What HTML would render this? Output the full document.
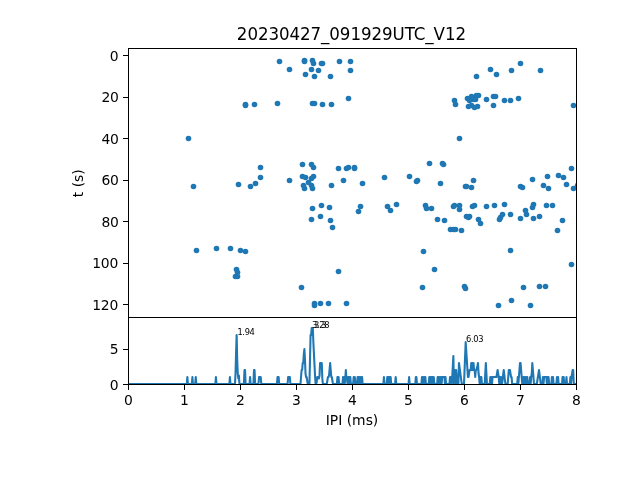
<!DOCTYPE html><html><head><meta charset="utf-8"><title>20230427_091929UTC_V12</title><style>html,body{margin:0;padding:0;background:#fff}body{width:640px;height:480px;overflow:hidden}</style></head><body><svg width="640" height="480" viewBox="0 0 640 480" style="display:block"><defs><clipPath id="c1"><rect x="128" y="48" width="448.5" height="269"/></clipPath><clipPath id="c2"><rect x="128" y="317" width="448.5" height="68"/></clipPath></defs><rect width="640" height="480" fill="#fff"/><g clip-path="url(#c1)" fill="#1f77b4"><circle cx="188.5" cy="138.5" r="2.8"/><circle cx="193.5" cy="186.5" r="2.8"/><circle cx="196.5" cy="250.5" r="2.8"/><circle cx="216.5" cy="248.5" r="2.8"/><circle cx="230.5" cy="248.5" r="2.8"/><circle cx="235.5" cy="276.5" r="2.8"/><circle cx="236.5" cy="269.5" r="2.8"/><circle cx="237.5" cy="272.5" r="2.8"/><circle cx="237.5" cy="276.5" r="2.8"/><circle cx="238.5" cy="184.5" r="2.8"/><circle cx="240.5" cy="250.5" r="2.8"/><circle cx="245.5" cy="104.5" r="2.8"/><circle cx="245.5" cy="105.5" r="2.8"/><circle cx="245.5" cy="251.5" r="2.8"/><circle cx="250.5" cy="186.5" r="2.8"/><circle cx="254.5" cy="104.5" r="2.8"/><circle cx="255.5" cy="183.5" r="2.8"/><circle cx="260.5" cy="167.5" r="2.8"/><circle cx="260.5" cy="177.5" r="2.8"/><circle cx="277.5" cy="103.5" r="2.8"/><circle cx="279.5" cy="61.5" r="2.8"/><circle cx="289.5" cy="69.5" r="2.8"/><circle cx="289.5" cy="180.5" r="2.8"/><circle cx="301.5" cy="287.5" r="2.8"/><circle cx="302.5" cy="164.5" r="2.8"/><circle cx="302.5" cy="176.5" r="2.8"/><circle cx="303.5" cy="185.5" r="2.8"/><circle cx="304.5" cy="60.5" r="2.8"/><circle cx="304.5" cy="61.5" r="2.8"/><circle cx="304.5" cy="188.5" r="2.8"/><circle cx="305.5" cy="74.5" r="2.8"/><circle cx="305.5" cy="177.5" r="2.8"/><circle cx="308.5" cy="182.5" r="2.8"/><circle cx="311.5" cy="69.5" r="2.8"/><circle cx="311.5" cy="164.5" r="2.8"/><circle cx="311.5" cy="178.5" r="2.8"/><circle cx="311.5" cy="185.5" r="2.8"/><circle cx="311.5" cy="219.5" r="2.8"/><circle cx="312.5" cy="60.5" r="2.8"/><circle cx="312.5" cy="103.5" r="2.8"/><circle cx="312.5" cy="188.5" r="2.8"/><circle cx="312.5" cy="208.5" r="2.8"/><circle cx="313.5" cy="63.5" r="2.8"/><circle cx="313.5" cy="167.5" r="2.8"/><circle cx="313.5" cy="176.5" r="2.8"/><circle cx="314.5" cy="76.5" r="2.8"/><circle cx="314.5" cy="103.5" r="2.8"/><circle cx="314.5" cy="303.5" r="2.8"/><circle cx="314.5" cy="305.5" r="2.8"/><circle cx="318.5" cy="70.5" r="2.8"/><circle cx="320.5" cy="216.5" r="2.8"/><circle cx="320.5" cy="303.5" r="2.8"/><circle cx="321.5" cy="63.5" r="2.8"/><circle cx="321.5" cy="205.5" r="2.8"/><circle cx="322.5" cy="63.5" r="2.8"/><circle cx="322.5" cy="104.5" r="2.8"/><circle cx="328.5" cy="303.5" r="2.8"/><circle cx="329.5" cy="207.5" r="2.8"/><circle cx="330.5" cy="76.5" r="2.8"/><circle cx="330.5" cy="220.5" r="2.8"/><circle cx="331.5" cy="104.5" r="2.8"/><circle cx="331.5" cy="185.5" r="2.8"/><circle cx="332.5" cy="227.5" r="2.8"/><circle cx="338.5" cy="168.5" r="2.8"/><circle cx="338.5" cy="271.5" r="2.8"/><circle cx="339.5" cy="61.5" r="2.8"/><circle cx="343.5" cy="180.5" r="2.8"/><circle cx="346.5" cy="168.5" r="2.8"/><circle cx="346.5" cy="303.5" r="2.8"/><circle cx="348.5" cy="98.5" r="2.8"/><circle cx="348.5" cy="167.5" r="2.8"/><circle cx="350.5" cy="61.5" r="2.8"/><circle cx="350.5" cy="70.5" r="2.8"/><circle cx="354.5" cy="167.5" r="2.8"/><circle cx="354.5" cy="168.5" r="2.8"/><circle cx="358.5" cy="211.5" r="2.8"/><circle cx="360.5" cy="206.5" r="2.8"/><circle cx="362.5" cy="183.5" r="2.8"/><circle cx="384.5" cy="177.5" r="2.8"/><circle cx="387.5" cy="206.5" r="2.8"/><circle cx="390.5" cy="210.5" r="2.8"/><circle cx="396.5" cy="204.5" r="2.8"/><circle cx="409.5" cy="176.5" r="2.8"/><circle cx="416.5" cy="181.5" r="2.8"/><circle cx="417.5" cy="180.5" r="2.8"/><circle cx="422.5" cy="287.5" r="2.8"/><circle cx="423.5" cy="251.5" r="2.8"/><circle cx="425.5" cy="205.5" r="2.8"/><circle cx="426.5" cy="208.5" r="2.8"/><circle cx="429.5" cy="163.5" r="2.8"/><circle cx="431.5" cy="208.5" r="2.8"/><circle cx="434.5" cy="269.5" r="2.8"/><circle cx="437.5" cy="219.5" r="2.8"/><circle cx="440.5" cy="183.5" r="2.8"/><circle cx="442.5" cy="163.5" r="2.8"/><circle cx="443.5" cy="164.5" r="2.8"/><circle cx="444.5" cy="220.5" r="2.8"/><circle cx="450.5" cy="229.5" r="2.8"/><circle cx="453.5" cy="206.5" r="2.8"/><circle cx="453.5" cy="229.5" r="2.8"/><circle cx="454.5" cy="100.5" r="2.8"/><circle cx="454.5" cy="205.5" r="2.8"/><circle cx="455.5" cy="104.5" r="2.8"/><circle cx="455.5" cy="229.5" r="2.8"/><circle cx="459.5" cy="138.5" r="2.8"/><circle cx="459.5" cy="205.5" r="2.8"/><circle cx="459.5" cy="209.5" r="2.8"/><circle cx="461.5" cy="230.5" r="2.8"/><circle cx="464.5" cy="286.5" r="2.8"/><circle cx="465.5" cy="186.5" r="2.8"/><circle cx="465.5" cy="288.5" r="2.8"/><circle cx="466.5" cy="186.5" r="2.8"/><circle cx="466.5" cy="216.5" r="2.8"/><circle cx="467.5" cy="98.5" r="2.8"/><circle cx="468.5" cy="106.5" r="2.8"/><circle cx="468.5" cy="217.5" r="2.8"/><circle cx="469.5" cy="100.5" r="2.8"/><circle cx="469.5" cy="216.5" r="2.8"/><circle cx="471.5" cy="96.5" r="2.8"/><circle cx="471.5" cy="105.5" r="2.8"/><circle cx="471.5" cy="187.5" r="2.8"/><circle cx="472.5" cy="97.5" r="2.8"/><circle cx="472.5" cy="206.5" r="2.8"/><circle cx="473.5" cy="99.5" r="2.8"/><circle cx="473.5" cy="180.5" r="2.8"/><circle cx="474.5" cy="107.5" r="2.8"/><circle cx="474.5" cy="205.5" r="2.8"/><circle cx="475.5" cy="99.5" r="2.8"/><circle cx="476.5" cy="76.5" r="2.8"/><circle cx="476.5" cy="95.5" r="2.8"/><circle cx="477.5" cy="106.5" r="2.8"/><circle cx="478.5" cy="95.5" r="2.8"/><circle cx="478.5" cy="219.5" r="2.8"/><circle cx="480.5" cy="223.5" r="2.8"/><circle cx="486.5" cy="99.5" r="2.8"/><circle cx="486.5" cy="206.5" r="2.8"/><circle cx="490.5" cy="69.5" r="2.8"/><circle cx="493.5" cy="96.5" r="2.8"/><circle cx="493.5" cy="105.5" r="2.8"/><circle cx="494.5" cy="205.5" r="2.8"/><circle cx="495.5" cy="96.5" r="2.8"/><circle cx="496.5" cy="74.5" r="2.8"/><circle cx="498.5" cy="305.5" r="2.8"/><circle cx="499.5" cy="219.5" r="2.8"/><circle cx="500.5" cy="217.5" r="2.8"/><circle cx="502.5" cy="214.5" r="2.8"/><circle cx="504.5" cy="100.5" r="2.8"/><circle cx="504.5" cy="204.5" r="2.8"/><circle cx="510.5" cy="100.5" r="2.8"/><circle cx="510.5" cy="214.5" r="2.8"/><circle cx="510.5" cy="250.5" r="2.8"/><circle cx="511.5" cy="70.5" r="2.8"/><circle cx="511.5" cy="300.5" r="2.8"/><circle cx="518.5" cy="98.5" r="2.8"/><circle cx="520.5" cy="63.5" r="2.8"/><circle cx="520.5" cy="186.5" r="2.8"/><circle cx="520.5" cy="218.5" r="2.8"/><circle cx="522.5" cy="187.5" r="2.8"/><circle cx="523.5" cy="287.5" r="2.8"/><circle cx="525.5" cy="210.5" r="2.8"/><circle cx="526.5" cy="214.5" r="2.8"/><circle cx="530.5" cy="305.5" r="2.8"/><circle cx="532.5" cy="179.5" r="2.8"/><circle cx="532.5" cy="207.5" r="2.8"/><circle cx="533.5" cy="204.5" r="2.8"/><circle cx="533.5" cy="218.5" r="2.8"/><circle cx="539.5" cy="216.5" r="2.8"/><circle cx="539.5" cy="286.5" r="2.8"/><circle cx="540.5" cy="70.5" r="2.8"/><circle cx="543.5" cy="185.5" r="2.8"/><circle cx="545.5" cy="286.5" r="2.8"/><circle cx="546.5" cy="205.5" r="2.8"/><circle cx="547.5" cy="176.5" r="2.8"/><circle cx="548.5" cy="188.5" r="2.8"/><circle cx="552.5" cy="205.5" r="2.8"/><circle cx="557.5" cy="230.5" r="2.8"/><circle cx="558.5" cy="175.5" r="2.8"/><circle cx="562.5" cy="220.5" r="2.8"/><circle cx="563.5" cy="177.5" r="2.8"/><circle cx="566.5" cy="184.5" r="2.8"/><circle cx="571.5" cy="168.5" r="2.8"/><circle cx="571.5" cy="264.5" r="2.8"/><circle cx="573.5" cy="105.5" r="2.8"/><circle cx="573.5" cy="188.5" r="2.8"/><circle cx="577.5" cy="185.5" r="2.8"/></g><g clip-path="url(#c2)"><polyline points="128.00,384.00 186.80,384.00 187.36,377.00 187.92,384.00 191.84,384.00 192.40,377.00 192.96,384.00 195.20,384.00 195.76,377.00 196.32,384.00 215.36,384.00 215.92,377.00 216.48,384.00 229.36,384.00 229.92,377.00 230.48,384.00 234.96,384.00 235.52,373.50 236.08,352.50 236.64,335.00 237.20,359.50 237.76,373.50 238.32,378.40 238.88,375.60 239.44,384.00 243.92,384.00 244.48,370.00 245.04,370.00 245.60,384.00 249.52,384.00 250.08,377.00 250.64,384.00 253.44,384.00 254.00,370.00 254.56,370.00 255.12,384.00 258.48,384.00 259.04,377.00 259.60,377.00 260.16,377.00 260.72,377.00 261.28,384.00 276.96,384.00 277.52,377.00 278.08,377.00 278.64,377.00 279.20,384.00 287.60,384.00 288.16,377.00 288.72,377.00 289.28,377.00 289.84,377.00 290.40,384.00 300.48,384.00 301.04,377.00 301.60,370.00 302.16,370.00 302.72,363.00 303.28,363.00 303.84,353.90 304.40,349.00 304.96,359.50 305.52,373.50 306.08,377.00 306.64,377.00 307.20,380.50 307.76,384.00 309.44,384.00 310.00,359.50 310.56,335.00 311.12,335.00 311.68,328.00 312.24,335.00 312.80,328.00 313.36,342.00 313.92,353.20 314.48,364.40 315.04,375.60 315.60,384.00 316.16,384.00 316.72,381.90 317.28,377.00 317.84,377.00 318.40,378.40 318.96,378.40 319.52,375.60 320.08,363.00 320.64,363.00 321.20,363.00 321.76,363.00 322.32,378.40 322.88,384.00 326.80,384.00 327.36,380.50 327.92,377.00 328.48,377.00 329.04,375.60 329.60,369.30 330.16,363.00 330.72,370.00 331.28,377.00 331.84,377.00 332.40,380.50 332.96,384.00 336.88,384.00 337.44,377.00 338.00,384.00 338.56,377.00 339.12,384.00 342.48,384.00 343.04,377.00 343.60,384.00 344.16,377.00 344.72,384.00 345.28,378.40 345.84,370.00 346.40,378.40 346.96,377.00 347.52,384.00 348.08,377.00 348.64,384.00 349.20,377.00 349.76,384.00 350.32,377.00 350.88,384.00 353.12,384.00 353.68,377.00 354.24,384.00 354.80,377.00 355.36,384.00 357.04,384.00 357.60,377.00 358.16,384.00 358.72,377.00 359.28,384.00 359.84,377.00 360.40,384.00 360.96,377.00 361.52,384.00 362.08,377.00 362.64,384.00 383.36,384.00 383.92,377.00 384.48,384.00 386.72,384.00 387.28,377.00 387.84,384.00 388.40,377.00 388.96,384.00 389.52,377.00 390.08,384.00 390.64,377.00 391.20,384.00 395.12,384.00 395.68,377.00 396.24,384.00 408.56,384.00 409.12,377.00 409.68,384.00 415.28,384.00 415.84,377.00 416.40,377.00 416.96,384.00 421.44,384.00 422.00,377.00 422.56,384.00 423.12,377.00 423.68,384.00 424.24,377.00 424.80,384.00 425.36,377.00 425.92,384.00 428.72,384.00 429.28,377.00 429.84,384.00 430.40,377.00 430.96,384.00 431.52,377.00 432.08,384.00 432.64,377.00 433.20,384.00 433.76,377.00 434.32,384.00 437.12,384.00 437.68,377.00 438.24,384.00 438.80,377.00 439.36,384.00 439.92,377.00 440.48,384.00 441.04,377.00 441.60,384.00 442.16,377.00 442.72,377.00 443.28,377.00 443.84,377.00 444.40,377.00 444.96,384.00 445.52,377.00 446.08,384.00 449.44,384.00 450.00,377.00 450.56,384.00 451.12,377.00 451.68,384.00 452.24,377.00 452.80,366.50 453.36,356.00 453.92,384.00 454.48,384.00 455.04,370.00 455.60,384.00 456.16,370.00 456.72,377.00 457.28,384.00 458.40,384.00 458.96,363.00 459.52,367.20 460.08,371.40 460.64,375.60 461.20,379.80 461.76,384.00 464.00,384.00 464.56,370.00 465.12,356.00 465.68,342.00 466.24,350.75 466.80,359.50 467.36,368.25 467.92,377.00 468.48,377.00 469.04,373.50 469.60,370.00 470.16,370.00 470.72,370.00 471.28,363.00 471.84,370.00 472.40,363.00 472.96,370.00 473.52,363.00 474.08,370.00 474.64,370.00 475.20,377.00 475.76,370.00 476.32,370.00 476.88,367.90 477.44,365.80 478.00,363.00 478.56,373.50 479.12,377.00 479.68,384.00 480.24,377.00 480.80,384.00 481.36,377.00 481.92,384.00 484.72,384.00 485.28,373.50 485.84,363.00 486.40,373.50 486.96,384.00 489.76,384.00 490.32,377.00 490.88,384.00 491.44,377.00 492.00,384.00 492.56,377.00 493.12,377.00 493.68,377.00 494.24,377.00 494.80,377.00 495.36,377.00 495.92,377.00 496.48,377.00 497.04,373.50 497.60,370.00 498.16,373.50 498.72,377.00 499.28,384.00 499.84,377.00 500.40,384.00 500.96,377.00 501.52,384.00 502.08,384.00 502.64,379.10 503.20,374.20 503.76,370.00 504.32,374.90 504.88,379.80 505.44,384.00 507.68,384.00 508.24,377.00 508.80,370.00 509.36,370.00 509.92,370.00 510.48,373.50 511.04,377.00 511.60,377.00 512.16,384.00 517.20,384.00 517.76,377.00 518.32,384.00 518.88,377.00 519.44,370.00 520.00,363.00 520.56,363.00 521.12,370.00 521.68,377.00 522.24,384.00 522.80,377.00 523.36,384.00 523.92,377.00 524.48,384.00 525.04,377.00 525.60,384.00 526.16,377.00 526.72,384.00 527.28,377.00 527.84,384.00 529.52,384.00 530.08,377.00 530.64,384.00 531.20,377.00 531.76,373.50 532.32,363.00 532.88,370.00 533.44,377.00 534.00,384.00 536.80,384.00 537.36,380.50 537.92,377.00 538.48,373.50 539.04,370.00 539.60,374.90 540.16,379.10 540.72,384.00 542.40,384.00 542.96,377.00 543.52,384.00 544.08,377.00 544.64,377.00 545.20,377.00 545.76,377.00 546.32,377.00 546.88,384.00 547.44,377.00 548.00,384.00 548.56,377.00 549.12,384.00 551.36,384.00 551.92,377.00 552.48,384.00 553.04,377.00 553.60,384.00 556.40,384.00 556.96,377.00 557.52,384.00 558.08,377.00 558.64,384.00 562.00,384.00 562.56,377.00 563.12,384.00 563.68,377.00 564.24,384.00 565.92,384.00 566.48,377.00 567.04,384.00 569.84,384.00 570.40,377.00 570.96,384.00 571.52,377.00 572.08,373.50 572.64,370.00 573.20,370.00 573.76,384.00 576.00,384.00" fill="none" stroke="#1f77b4" stroke-width="2.08" stroke-linejoin="round" stroke-linecap="butt"/></g><path d="M123 55.5H128.5 M123 97.5H128.5 M123 138.5H128.5 M123 180.5H128.5 M123 221.5H128.5 M123 263.5H128.5 M123 304.5H128.5 M123 384.5H128.5 M123 349.5H128.5 M128.5 384.5V389.5 M184.5 384.5V389.5 M240.5 384.5V389.5 M296.5 384.5V389.5 M352.5 384.5V389.5 M408.5 384.5V389.5 M464.5 384.5V389.5 M520.5 384.5V389.5 M576.5 384.5V389.5" stroke="#000" stroke-width="1" fill="none" shape-rendering="crispEdges"/><path d="M128.5 48V385 M576.5 48V385 M128 48.5H577 M128 317.5H577 M128 384.5H577" stroke="#000" stroke-width="1" fill="none" shape-rendering="crispEdges"/><g font-family="DejaVu Sans, Liberation Sans, sans-serif" fill="#000"><g font-size="16.67"><text transform="translate(351.4,39.7) scale(1,1.05)" text-anchor="middle" letter-spacing="-0.07">20230427_091929UTC_V12</text></g><g font-size="13.89"><text transform="translate(118.6,61) scale(1,1.05)" text-anchor="end">0</text><text transform="translate(118.6,102) scale(1,1.05)" text-anchor="end" letter-spacing="-0.25">20</text><text transform="translate(118.6,144) scale(1,1.05)" text-anchor="end" letter-spacing="-0.25">40</text><text transform="translate(118.6,185) scale(1,1.05)" text-anchor="end" letter-spacing="-0.25">60</text><text transform="translate(118.6,227) scale(1,1.05)" text-anchor="end" letter-spacing="-0.25">80</text><text transform="translate(118.0,268) scale(1,1.05)" text-anchor="end" letter-spacing="-0.25">100</text><text transform="translate(118.0,310) scale(1,1.05)" text-anchor="end" letter-spacing="-0.25">120</text><text transform="translate(118.6,390) scale(1,1.05)" text-anchor="end">0</text><text transform="translate(118.6,354.2) scale(1,1.05)" text-anchor="end">5</text><text transform="translate(128.5,405) scale(1,1.05)" text-anchor="middle">0</text><text transform="translate(184.5,405) scale(1,1.05)" text-anchor="middle">1</text><text transform="translate(240.5,405) scale(1,1.05)" text-anchor="middle">2</text><text transform="translate(296.5,405) scale(1,1.05)" text-anchor="middle">3</text><text transform="translate(352.5,405) scale(1,1.05)" text-anchor="middle">4</text><text transform="translate(408.5,405) scale(1,1.05)" text-anchor="middle">5</text><text transform="translate(464.5,405) scale(1,1.05)" text-anchor="middle">6</text><text transform="translate(520.5,405) scale(1,1.05)" text-anchor="middle">7</text><text transform="translate(576.5,405) scale(1,1.05)" text-anchor="middle">8</text><text transform="translate(352,424.9) scale(1,1.05)" text-anchor="middle">IPI (ms)</text><text transform="translate(83.2,183.2) rotate(-90) scale(1,1.05)" text-anchor="middle">t (s)</text></g><g font-size="8.33" letter-spacing="-0.35"><text transform="translate(237.4,335) scale(1,1.05)">1.94</text><text transform="translate(312.1,328) scale(1,1.05)">3.28</text><text transform="translate(314.1,328) scale(1,1.05)">3.3</text><text transform="translate(466.0,342) scale(1,1.05)">6.03</text></g></g></svg></body></html>
